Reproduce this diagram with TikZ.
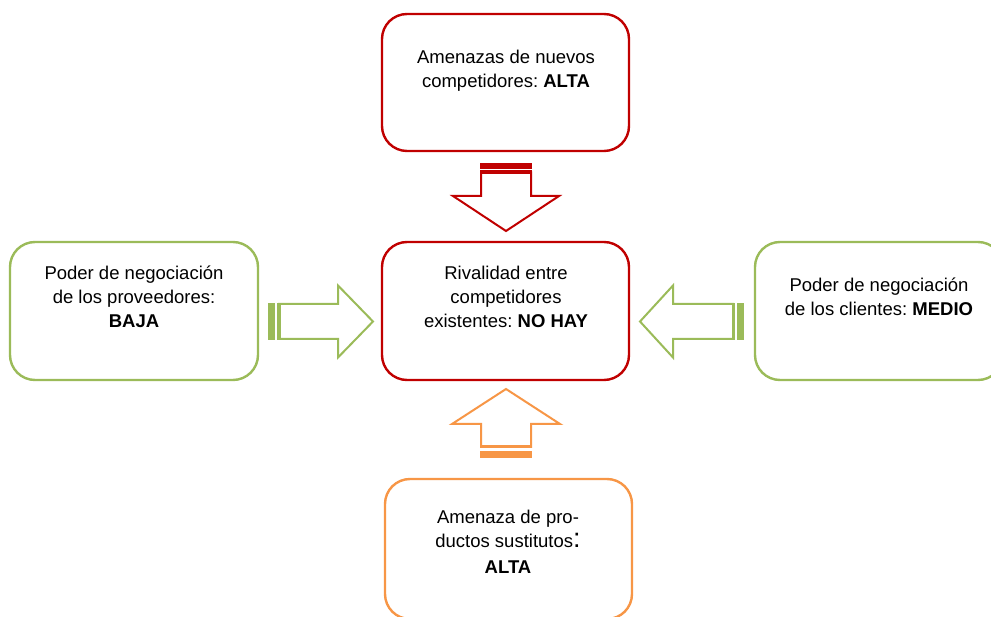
\documentclass[tikz,border=0pt]{standalone}
\usepackage{fontspec}
\setmainfont{Liberation Sans}
\frenchspacing
\definecolor{cred}{HTML}{C00000}
\definecolor{cgreen}{HTML}{9BBB59}
\definecolor{corange}{HTML}{F79646}
\begin{document}
\frenchspacing
\begin{tikzpicture}[x=1pt,y=-1pt,
  box/.style={draw=#1, line width=2.4pt, rounded corners=25pt, fill=white, minimum width=247pt, minimum height=138pt, inner sep=0pt},
  txt/.style={align=center, font=\fontsize{18.5}{24}\selectfont\frenchspacing, inner sep=0pt},
  arr/.style={draw=#1, line width=2pt, fill=white, line join=miter},
  barfill/.style={fill=#1, draw=none}]
\useasboundingbox (0,0) rectangle (991,617);
\clip (0,0) rectangle (991,617);
% boxes
\node[box=cred, minimum height=137pt] (top) at (505.5,82.5) {};
\node[box=cred] (mid) at (505.5,311) {};
\node[box=cgreen, minimum width=248pt] (left) at (134,311) {};
\node[box=cgreen, minimum width=248pt] (right) at (879,311) {};
\node[box=corange, minimum height=140pt] (bot) at (508.5,549) {};
% texts
\node[txt] (toptxt) at (506,71) {Amenazas de nuevos\\competidores: \textbf{ALTA}};
\node[txt] (midtxt) at (506,297) {Rivalidad entre\\competidores\\existentes: \textbf{NO HAY}};
\node[txt] (lefttxt) at (134,297) {Poder de negociación\\de los proveedores:\\\textbf{BAJA}};
\node[txt] (righttxt) at (879,297) {Poder de negociación\\de los clientes: \textbf{MEDIO}};
\node[txt] (bottxt) at (508,542) {Amenaza de pro-\\ductos sustitutos{\fontsize{27}{24}\selectfont:}\\[2pt]\textbf{ALTA}};
% top arrow (down)
\draw[arr=cred] (481,172.5) -- (531,172.5) -- (531,196) -- (559,196) -- (506,231) -- (453,196) -- (481,196) -- cycle;
\fill[barfill=cred] (480,163) rectangle (532,169);
\fill[barfill=cred] (480,170.5) rectangle (532,174);
% left arrow (right)
\draw[arr=cgreen] (279,304) -- (338,304) -- (338,285.5) -- (373,321.5) -- (338,357.5) -- (338,339) -- (279,339) -- cycle;
\fill[barfill=cgreen] (268,303) rectangle (275,340);
\fill[barfill=cgreen] (277,303) rectangle (280.5,340);
% right arrow (left)
\draw[arr=cgreen] (733,304) -- (673,304) -- (673,285.5) -- (640,321.5) -- (673,357.5) -- (673,339) -- (733,339) -- cycle;
\fill[barfill=cgreen] (731.5,303) rectangle (735,340);
\fill[barfill=cgreen] (737,303) rectangle (744,340);
% bottom arrow (up)
\draw[arr=corange] (481,447) -- (481,424) -- (452,424) -- (506,389) -- (560,424) -- (531,424) -- (531,447) -- cycle;
\fill[barfill=corange] (480,445) rectangle (532,448.5);
\fill[barfill=corange] (480,451.5) rectangle (532,458);
\end{tikzpicture}
\end{document}
